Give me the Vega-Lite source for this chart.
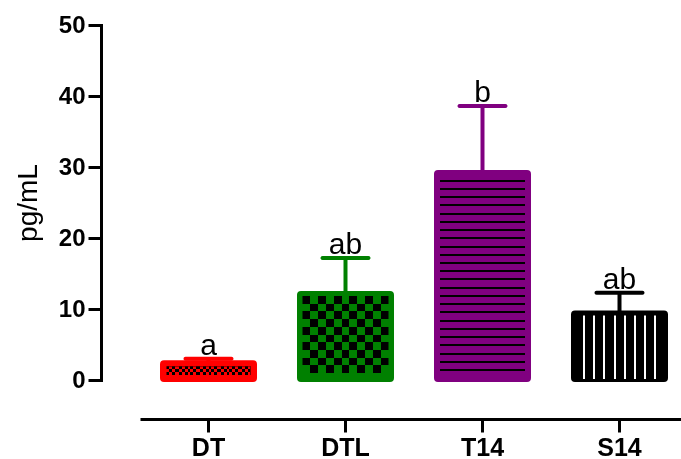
{
  "$schema": "https://vega.github.io/schema/vega-lite/v6.json",
  "width": 541,
  "height": 355,
  "autosize": {"type": "none"},
  "padding": {"left": 140, "top": 25, "right": 0, "bottom": 79},
  "background": "white",
  "config": {
    "view": {"stroke": null},
    "font": "Liberation Sans",
    "text": {"font": "Liberation Sans"}
  },
  "data": {
    "values": [
      {"group": "DT", "mean": 2.5, "upper": 3.0, "letter": "a"},
      {"group": "DTL", "mean": 12.25, "upper": 17.2, "letter": "ab"},
      {"group": "T14", "mean": 29.3, "upper": 38.6, "letter": "b"},
      {"group": "S14", "mean": 9.5, "upper": 12.3, "letter": "ab"}
    ]
  },
  "encoding": {
    "x": {
      "field": "group",
      "type": "nominal",
      "sort": ["DT", "DTL", "T14", "S14"],
      "scale": {"range": [0, 548], "paddingInner": 0.3, "paddingOuter": 0.15},
      "axis": {
        "title": null,
        "labelAngle": 0,
        "labelFont": "Liberation Sans",
        "labelFontWeight": "bold",
        "labelFontSize": 25,
        "labelColor": "black",
        "labelPadding": 3,
        "offset": 39,
        "domainColor": "black",
        "domainWidth": 3,
        "tickColor": "black",
        "tickWidth": 3,
        "tickSize": 13
      }
    }
  },
  "layer": [
    {
      "mark": {"type": "bar", "width": 93, "strokeWidth": 4, "cornerRadius": 2, "strokeJoin": "round"},
      "encoding": {
        "y": {
          "field": "mean",
          "type": "quantitative",
          "scale": {"domain": [0, 50], "nice": false},
          "axis": {
            "values": [0, 10, 20, 30, 40, 50],
            "grid": false,
            "offset": 39,
            "labelFont": "Liberation Sans",
            "labelFontWeight": "bold",
            "labelFontSize": 24,
            "labelColor": "black",
            "labelPadding": 3,
            "domainColor": "black",
            "domainWidth": 3,
            "domainCap": "square",
            "tickColor": "black",
            "tickWidth": 3,
            "tickSize": 13,
            "title": "pg/mL",
            "titleFont": "Liberation Sans",
            "titleFontSize": 28,
            "titleFontWeight": "normal",
            "titleColor": "black",
            "titlePadding": 16
          }
        },
        "fill": {
          "field": "group",
          "type": "nominal",
          "scale": {"domain": ["DT", "DTL", "T14", "S14"], "range": ["#ff0000", "#008000", "#800080", "#000000"]},
          "legend": null
        },
        "stroke": {
          "field": "group",
          "type": "nominal",
          "scale": {"domain": ["DT", "DTL", "T14", "S14"], "range": ["#ff0000", "#008000", "#800080", "#000000"]},
          "legend": null
        }
      }
    },
    {
      "mark": {"type": "rule", "strokeWidth": 4},
      "encoding": {
        "y": {"field": "mean", "type": "quantitative"},
        "y2": {"field": "upper"},
        "stroke": {"field": "group", "type": "nominal", "legend": null}
      }
    },
    {
      "mark": {"type": "tick", "size": 50, "thickness": 4, "cornerRadius": 2, "opacity": 1},
      "encoding": {
        "y": {"field": "upper", "type": "quantitative"},
        "color": {
          "field": "group",
          "type": "nominal",
          "scale": {"domain": ["DT", "DTL", "T14", "S14"], "range": ["#ff0000", "#008000", "#800080", "#000000"]},
          "legend": null
        }
      }
    },
    {
      "mark": {"type": "text", "fontSize": 30, "font": "Liberation Sans", "baseline": "alphabetic", "dy": -4, "color": "black"},
      "encoding": {
        "y": {"field": "upper", "type": "quantitative"},
        "text": {"field": "letter"}
      }
    },
    {
      "transform": [{"filter": "datum.group === 'T14'"}],
      "mark": {
        "type": "bar", "width": 85, "yOffset": 4, "y2Offset": -6,
        "fill": {
          "gradient": "linear", "x1": 0, "y1": 0, "x2": 0, "y2": 1,
          "stops": [
            {"offset": 0, "color": "#800080"},
            {"offset": 0.0187, "color": "#800080"}, {"offset": 0.0187, "color": "#000000"}, {"offset": 0.0287, "color": "#000000"}, {"offset": 0.0287, "color": "#800080"},
            {"offset": 0.0603, "color": "#800080"}, {"offset": 0.0603, "color": "#000000"}, {"offset": 0.0703, "color": "#000000"}, {"offset": 0.0703, "color": "#800080"},
            {"offset": 0.1018, "color": "#800080"}, {"offset": 0.1018, "color": "#000000"}, {"offset": 0.1118, "color": "#000000"}, {"offset": 0.1118, "color": "#800080"},
            {"offset": 0.1434, "color": "#800080"}, {"offset": 0.1434, "color": "#000000"}, {"offset": 0.1534, "color": "#000000"}, {"offset": 0.1534, "color": "#800080"},
            {"offset": 0.1850, "color": "#800080"}, {"offset": 0.1850, "color": "#000000"}, {"offset": 0.1950, "color": "#000000"}, {"offset": 0.1950, "color": "#800080"},
            {"offset": 0.2266, "color": "#800080"}, {"offset": 0.2266, "color": "#000000"}, {"offset": 0.2366, "color": "#000000"}, {"offset": 0.2366, "color": "#800080"},
            {"offset": 0.2681, "color": "#800080"}, {"offset": 0.2681, "color": "#000000"}, {"offset": 0.2781, "color": "#000000"}, {"offset": 0.2781, "color": "#800080"},
            {"offset": 0.3097, "color": "#800080"}, {"offset": 0.3097, "color": "#000000"}, {"offset": 0.3197, "color": "#000000"}, {"offset": 0.3197, "color": "#800080"},
            {"offset": 0.3513, "color": "#800080"}, {"offset": 0.3513, "color": "#000000"}, {"offset": 0.3613, "color": "#000000"}, {"offset": 0.3613, "color": "#800080"},
            {"offset": 0.3928, "color": "#800080"}, {"offset": 0.3928, "color": "#000000"}, {"offset": 0.4028, "color": "#000000"}, {"offset": 0.4028, "color": "#800080"},
            {"offset": 0.4344, "color": "#800080"}, {"offset": 0.4344, "color": "#000000"}, {"offset": 0.4444, "color": "#000000"}, {"offset": 0.4444, "color": "#800080"},
            {"offset": 0.4760, "color": "#800080"}, {"offset": 0.4760, "color": "#000000"}, {"offset": 0.4860, "color": "#000000"}, {"offset": 0.4860, "color": "#800080"},
            {"offset": 0.5175, "color": "#800080"}, {"offset": 0.5175, "color": "#000000"}, {"offset": 0.5275, "color": "#000000"}, {"offset": 0.5275, "color": "#800080"},
            {"offset": 0.5591, "color": "#800080"}, {"offset": 0.5591, "color": "#000000"}, {"offset": 0.5691, "color": "#000000"}, {"offset": 0.5691, "color": "#800080"},
            {"offset": 0.6007, "color": "#800080"}, {"offset": 0.6007, "color": "#000000"}, {"offset": 0.6107, "color": "#000000"}, {"offset": 0.6107, "color": "#800080"},
            {"offset": 0.6423, "color": "#800080"}, {"offset": 0.6423, "color": "#000000"}, {"offset": 0.6523, "color": "#000000"}, {"offset": 0.6523, "color": "#800080"},
            {"offset": 0.6838, "color": "#800080"}, {"offset": 0.6838, "color": "#000000"}, {"offset": 0.6938, "color": "#000000"}, {"offset": 0.6938, "color": "#800080"},
            {"offset": 0.7254, "color": "#800080"}, {"offset": 0.7254, "color": "#000000"}, {"offset": 0.7354, "color": "#000000"}, {"offset": 0.7354, "color": "#800080"},
            {"offset": 0.7670, "color": "#800080"}, {"offset": 0.7670, "color": "#000000"}, {"offset": 0.7770, "color": "#000000"}, {"offset": 0.7770, "color": "#800080"},
            {"offset": 0.8085, "color": "#800080"}, {"offset": 0.8085, "color": "#000000"}, {"offset": 0.8185, "color": "#000000"}, {"offset": 0.8185, "color": "#800080"},
            {"offset": 0.8501, "color": "#800080"}, {"offset": 0.8501, "color": "#000000"}, {"offset": 0.8601, "color": "#000000"}, {"offset": 0.8601, "color": "#800080"},
            {"offset": 0.8917, "color": "#800080"}, {"offset": 0.8917, "color": "#000000"}, {"offset": 0.9017, "color": "#000000"}, {"offset": 0.9017, "color": "#800080"},
            {"offset": 0.9332, "color": "#800080"}, {"offset": 0.9332, "color": "#000000"}, {"offset": 0.9432, "color": "#000000"}, {"offset": 0.9432, "color": "#800080"},
            {"offset": 0.9748, "color": "#800080"}, {"offset": 0.9748, "color": "#000000"}, {"offset": 0.9848, "color": "#000000"}, {"offset": 0.9848, "color": "#800080"},
            {"offset": 1, "color": "#800080"}
          ]
        }
      },
      "encoding": {"y": {"field": "mean", "type": "quantitative"}, "y2": {"datum": 0}}
    },
    {
      "transform": [{"filter": "datum.group === 'S14'"}],
      "mark": {
        "type": "bar", "width": 85, "yOffset": 3, "y2Offset": -1,
        "fill": {
          "gradient": "linear", "x1": 0, "y1": 0, "x2": 1, "y2": 0,
          "stops": [
            {"offset": 0, "color": "#000000"},
            {"offset": 0.0704, "color": "#000000"}, {"offset": 0.0704, "color": "#ffffff"}, {"offset": 0.0944, "color": "#ffffff"}, {"offset": 0.0944, "color": "#000000"},
            {"offset": 0.1902, "color": "#000000"}, {"offset": 0.1902, "color": "#ffffff"}, {"offset": 0.2142, "color": "#ffffff"}, {"offset": 0.2142, "color": "#000000"},
            {"offset": 0.3100, "color": "#000000"}, {"offset": 0.3100, "color": "#ffffff"}, {"offset": 0.3340, "color": "#ffffff"}, {"offset": 0.3340, "color": "#000000"},
            {"offset": 0.4298, "color": "#000000"}, {"offset": 0.4298, "color": "#ffffff"}, {"offset": 0.4538, "color": "#ffffff"}, {"offset": 0.4538, "color": "#000000"},
            {"offset": 0.5496, "color": "#000000"}, {"offset": 0.5496, "color": "#ffffff"}, {"offset": 0.5736, "color": "#ffffff"}, {"offset": 0.5736, "color": "#000000"},
            {"offset": 0.6694, "color": "#000000"}, {"offset": 0.6694, "color": "#ffffff"}, {"offset": 0.6934, "color": "#ffffff"}, {"offset": 0.6934, "color": "#000000"},
            {"offset": 0.7892, "color": "#000000"}, {"offset": 0.7892, "color": "#ffffff"}, {"offset": 0.8132, "color": "#ffffff"}, {"offset": 0.8132, "color": "#000000"},
            {"offset": 0.9090, "color": "#000000"}, {"offset": 0.9090, "color": "#ffffff"}, {"offset": 0.9330, "color": "#ffffff"}, {"offset": 0.9330, "color": "#000000"},
            {"offset": 1, "color": "#000000"}
          ]
        }
      },
      "encoding": {"y": {"field": "mean", "type": "quantitative"}, "y2": {"datum": 0}}
    },
    {
      "transform": [{"filter": "datum.group === 'DTL'"}],
      "mark": {
        "type": "bar", "width": 86, "yOffset": 3, "y2Offset": -7,
        "fill": {
          "gradient": "linear", "x1": 0, "y1": 0, "x2": 1, "y2": 0,
          "stops": [
            {"offset": 0, "color": "#008000"}, {"offset": 0.0909, "color": "#008000"},
            {"offset": 0.0909, "color": "#000000"}, {"offset": 0.1818, "color": "#000000"},
            {"offset": 0.1818, "color": "#008000"}, {"offset": 0.2727, "color": "#008000"},
            {"offset": 0.2727, "color": "#000000"}, {"offset": 0.3636, "color": "#000000"},
            {"offset": 0.3636, "color": "#008000"}, {"offset": 0.4545, "color": "#008000"},
            {"offset": 0.4545, "color": "#000000"}, {"offset": 0.5455, "color": "#000000"},
            {"offset": 0.5455, "color": "#008000"}, {"offset": 0.6364, "color": "#008000"},
            {"offset": 0.6364, "color": "#000000"}, {"offset": 0.7273, "color": "#000000"},
            {"offset": 0.7273, "color": "#008000"}, {"offset": 0.8182, "color": "#008000"},
            {"offset": 0.8182, "color": "#000000"}, {"offset": 0.9091, "color": "#000000"},
            {"offset": 0.9091, "color": "#008000"}, {"offset": 1, "color": "#008000"}
          ]
        }
      },
      "encoding": {"y": {"field": "mean", "type": "quantitative"}, "y2": {"datum": 0}}
    },
    {
      "transform": [{"filter": "datum.group === 'DTL'"}],
      "mark": {
        "type": "bar", "width": 86, "yOffset": 3, "y2Offset": -7, "blend": "difference",
        "fill": {
          "gradient": "linear", "x1": 0, "y1": 0, "x2": 0, "y2": 1,
          "stops": [
            {"offset": 0, "color": "#008000"}, {"offset": 0.1, "color": "#008000"},
            {"offset": 0.1, "color": "#000000"}, {"offset": 0.2, "color": "#000000"},
            {"offset": 0.2, "color": "#008000"}, {"offset": 0.3, "color": "#008000"},
            {"offset": 0.3, "color": "#000000"}, {"offset": 0.4, "color": "#000000"},
            {"offset": 0.4, "color": "#008000"}, {"offset": 0.5, "color": "#008000"},
            {"offset": 0.5, "color": "#000000"}, {"offset": 0.6, "color": "#000000"},
            {"offset": 0.6, "color": "#008000"}, {"offset": 0.7, "color": "#008000"},
            {"offset": 0.7, "color": "#000000"}, {"offset": 0.8, "color": "#000000"},
            {"offset": 0.8, "color": "#008000"}, {"offset": 0.9, "color": "#008000"},
            {"offset": 0.9, "color": "#000000"}, {"offset": 1, "color": "#000000"}
          ]
        }
      },
      "encoding": {"y": {"field": "mean", "type": "quantitative"}, "y2": {"datum": 0}}
    },
    {
      "transform": [{"filter": "datum.group === 'DT'"}],
      "mark": {
        "type": "bar", "width": 84, "yOffset": 4, "y2Offset": -5,
        "fill": {
          "gradient": "linear", "x1": 0, "y1": 0, "x2": 1, "y2": 0,
          "stops": [
            {"offset": 0, "color": "#ff0000"}, {"offset": 0.0357, "color": "#ff0000"},
            {"offset": 0.0357, "color": "#000000"}, {"offset": 0.0714, "color": "#000000"},
            {"offset": 0.0714, "color": "#ff0000"}, {"offset": 0.1071, "color": "#ff0000"},
            {"offset": 0.1071, "color": "#000000"}, {"offset": 0.1429, "color": "#000000"},
            {"offset": 0.1429, "color": "#ff0000"}, {"offset": 0.1786, "color": "#ff0000"},
            {"offset": 0.1786, "color": "#000000"}, {"offset": 0.2143, "color": "#000000"},
            {"offset": 0.2143, "color": "#ff0000"}, {"offset": 0.25, "color": "#ff0000"},
            {"offset": 0.25, "color": "#000000"}, {"offset": 0.2857, "color": "#000000"},
            {"offset": 0.2857, "color": "#ff0000"}, {"offset": 0.3214, "color": "#ff0000"},
            {"offset": 0.3214, "color": "#000000"}, {"offset": 0.3571, "color": "#000000"},
            {"offset": 0.3571, "color": "#ff0000"}, {"offset": 0.3929, "color": "#ff0000"},
            {"offset": 0.3929, "color": "#000000"}, {"offset": 0.4286, "color": "#000000"},
            {"offset": 0.4286, "color": "#ff0000"}, {"offset": 0.4643, "color": "#ff0000"},
            {"offset": 0.4643, "color": "#000000"}, {"offset": 0.5, "color": "#000000"},
            {"offset": 0.5, "color": "#ff0000"}, {"offset": 0.5357, "color": "#ff0000"},
            {"offset": 0.5357, "color": "#000000"}, {"offset": 0.5714, "color": "#000000"},
            {"offset": 0.5714, "color": "#ff0000"}, {"offset": 0.6071, "color": "#ff0000"},
            {"offset": 0.6071, "color": "#000000"}, {"offset": 0.6429, "color": "#000000"},
            {"offset": 0.6429, "color": "#ff0000"}, {"offset": 0.6786, "color": "#ff0000"},
            {"offset": 0.6786, "color": "#000000"}, {"offset": 0.7143, "color": "#000000"},
            {"offset": 0.7143, "color": "#ff0000"}, {"offset": 0.75, "color": "#ff0000"},
            {"offset": 0.75, "color": "#000000"}, {"offset": 0.7857, "color": "#000000"},
            {"offset": 0.7857, "color": "#ff0000"}, {"offset": 0.8214, "color": "#ff0000"},
            {"offset": 0.8214, "color": "#000000"}, {"offset": 0.8571, "color": "#000000"},
            {"offset": 0.8571, "color": "#ff0000"}, {"offset": 0.8929, "color": "#ff0000"},
            {"offset": 0.8929, "color": "#000000"}, {"offset": 0.9286, "color": "#000000"},
            {"offset": 0.9286, "color": "#ff0000"}, {"offset": 0.9643, "color": "#ff0000"},
            {"offset": 0.9643, "color": "#000000"}, {"offset": 1, "color": "#000000"}
          ]
        }
      },
      "encoding": {"y": {"field": "mean", "type": "quantitative"}, "y2": {"datum": 0}}
    },
    {
      "transform": [{"filter": "datum.group === 'DT'"}],
      "mark": {
        "type": "bar", "width": 84, "yOffset": 4, "y2Offset": -5, "blend": "difference",
        "fill": {
          "gradient": "linear", "x1": 0, "y1": 0, "x2": 0, "y2": 1,
          "stops": [
            {"offset": 0, "color": "#ff0000"}, {"offset": 0.3333, "color": "#ff0000"},
            {"offset": 0.3333, "color": "#000000"}, {"offset": 0.6667, "color": "#000000"},
            {"offset": 0.6667, "color": "#ff0000"}, {"offset": 1, "color": "#ff0000"}
          ]
        }
      },
      "encoding": {"y": {"field": "mean", "type": "quantitative"}, "y2": {"datum": 0}}
    }
  ]
}
